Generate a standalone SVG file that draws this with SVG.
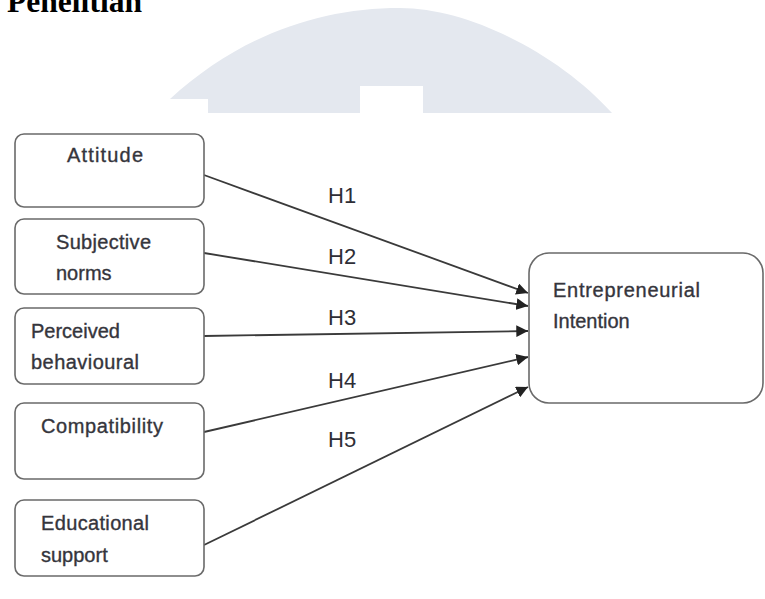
<svg xmlns="http://www.w3.org/2000/svg" width="765" height="599" viewBox="0 0 765 599">
<defs>
<style>
.box{fill:#fff;stroke:#6a6a6a;stroke-width:1.6}
.lbl{font-family:"Liberation Sans",Arial,sans-serif;font-size:20px;fill:#35353c;stroke:#35353c;stroke-width:0.35}
.h{font-family:"Liberation Sans",Arial,sans-serif;font-size:22px;fill:#2e2e36}
.ln{stroke:#3a3a3a;stroke-width:1.8;fill:none;marker-end:url(#ah)}
</style>
<marker id="ah" viewBox="0 0 10 10" refX="10" refY="5" markerWidth="6.5" markerHeight="6.5" markerUnits="strokeWidth" orient="auto">
<path d="M0,0 L10,5 L0,10 z" fill="#222"/>
</marker>
</defs>
<rect width="765" height="599" fill="#fff"/>
<g id="watermark">
<path d="M170,99 C240,35 320,8 400,8 C470,8 560,55 612,113 L423,113 L423,86 L360,86 L360,113 L208,113 L208,99 Z" fill="#e4e8ef"/>
</g>
<text x="7" y="12" font-family="'Liberation Serif','Times New Roman',serif" font-weight="bold" font-size="32" textLength="135" lengthAdjust="spacingAndGlyphs" fill="#000">Penelitian</text>
<g id="connectors">
<line class="ln" x1="204" y1="175" x2="528" y2="293"/>
<line class="ln" x1="204" y1="253" x2="528" y2="306"/>
<line class="ln" x1="204" y1="336" x2="528" y2="331"/>
<line class="ln" x1="204" y1="432" x2="528" y2="357"/>
<line class="ln" x1="204" y1="545" x2="528" y2="387"/>
<text class="h" x="328" y="203">H1</text>
<text class="h" x="328" y="264">H2</text>
<text class="h" x="328" y="325">H3</text>
<text class="h" x="328" y="388">H4</text>
<text class="h" x="328" y="447">H5</text>
</g>
<g id="attitude">
<rect class="box" x="15" y="134" width="189" height="73" rx="9"/>
<text class="lbl" x="67" y="162" textLength="76">Attitude</text>
</g>
<g id="subjective">
<rect class="box" x="15" y="219" width="189" height="75" rx="9"/>
<text class="lbl" x="56" y="249" textLength="95">Subjective</text>
<text class="lbl" x="56" y="280">norms</text>
</g>
<g id="perceived">
<rect class="box" x="15" y="308" width="189" height="76" rx="9"/>
<text class="lbl" x="31" y="338">Perceived</text>
<text class="lbl" x="31" y="369" textLength="108">behavioural</text>
</g>
<g id="compatibility">
<rect class="box" x="15" y="403" width="189" height="76" rx="9"/>
<text class="lbl" x="41" y="433" textLength="122">Compatibility</text>
</g>
<g id="educational">
<rect class="box" x="15" y="500" width="189" height="76" rx="9"/>
<text class="lbl" x="41" y="530" textLength="108">Educational</text>
<text class="lbl" x="41" y="562">support</text>
</g>
<g id="entrepreneurial">
<rect class="box" x="529" y="253" width="234" height="150" rx="20"/>
<text class="lbl" x="553" y="297" textLength="147">Entrepreneurial</text>
<text class="lbl" x="553" y="328">Intention</text>
</g>
</svg>
